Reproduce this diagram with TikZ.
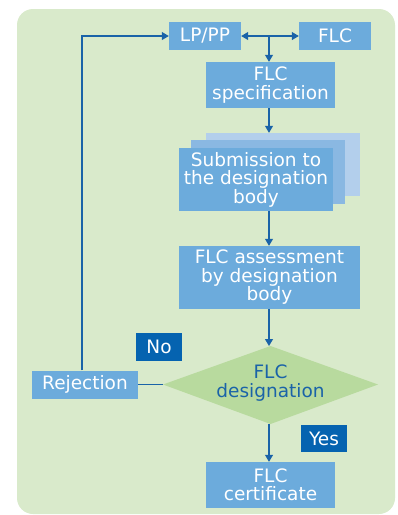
\documentclass[tikz,border=0pt]{standalone}
\usepackage{fontspec}
\setmainfont{DejaVu Sans}
\usetikzlibrary{shapes.geometric,arrows.meta,calc}
\definecolor{bggreen}{HTML}{D9EACB}
\definecolor{boxblue}{HTML}{6CABDC}
\definecolor{midblue}{HTML}{8AB8E2}
\definecolor{lightblue}{HTML}{B3CFEC}
\definecolor{lineblue}{HTML}{1A63A8}
\definecolor{labelblue}{HTML}{0563B0}
\definecolor{diagreen}{HTML}{B8DA9E}
\tikzset{
  x=1pt, y=-1pt,
  fontsz/.style={font=\fontsize{18.5}{18.5}\selectfont},
  bluebox/.style={rectangle, fill=boxblue, text=white, inner sep=0pt, align=center, fontsz},
  stackbox/.style={rectangle, inner sep=0pt, minimum width=154pt},
  lab/.style={rectangle, fill=labelblue, text=white, inner sep=0pt, minimum width=46pt, minimum height=28pt, fontsz},
  conn/.style={draw=lineblue, line width=1.2pt},
  arr/.style={conn, -{Triangle[length=7pt,width=8pt]}},
}
\begin{document}
\begin{tikzpicture}
\useasboundingbox (0,0) rectangle (398,515);
\fill[bggreen, rounded corners=16pt] (17,9) rectangle (395,514);
% nodes
\node[bluebox, minimum width=72pt, minimum height=28pt] (lp) at (205,36) {LP/PP};
\node[bluebox, minimum width=72pt, minimum height=28pt] (flc) at (335,36) {FLC};
\node[bluebox, minimum width=129pt, minimum height=46pt] (spec) at (270.5,85) {FLC\\specification};
\node[stackbox, fill=lightblue, minimum height=63pt] (back) at (283,164.5) {};
\node[stackbox, fill=midblue, minimum height=64pt] (mid) at (268,172) {};
\node[bluebox, minimum width=154pt, minimum height=63pt] (front) at (256,179.5) {Submission to\\the designation\\body};
\node[bluebox, minimum width=181pt, minimum height=63pt] (assess) at (269.5,277.5) {FLC assessment\\by designation\\body};
% decision diamond
\coordinate (diaN) at (270.5,346);
\coordinate (diaS) at (270.5,424);
\coordinate (diaW) at (163,384.5);
\coordinate (diaE) at (378,384.5);
\fill[diagreen] (diaN) -- (diaE) -- (diaS) -- (diaW) -- cycle;
\node[text=lineblue, inner sep=0pt, align=center, fontsz] (dia) at (270.5,383) {FLC\\designation};
\node[bluebox, minimum width=106pt, minimum height=28pt] (rej) at (85,384.5) {Rejection};
\node[lab] (no) at (159,347) {No};
\node[lab, minimum height=27pt] (yes) at (324,438.5) {Yes};
\node[bluebox, minimum width=129pt, minimum height=46pt] (cert) at (270.5,485) {FLC\\certificate};
% connectors
\coordinate (j) at (269,36);
\coordinate (up) at (82,36);
\draw[arr] (j) -- (lp.east);
\draw[arr] (j) -- (flc.west);
\draw[arr] (j) -- (j |- spec.north);
\draw[arr] (j |- spec.south) -- (j |- back.north);
\draw[arr] (j |- front.south) -- (j |- assess.north);
\draw[arr] (j |- assess.south) -- (j |- diaN);
\draw[arr] (j |- diaS) -- (j |- cert.north);
\draw[conn] (rej.east) -- (diaW);
\draw[arr] (up |- rej.north) -- (up) -- (lp.west);
\end{tikzpicture}
\end{document}
